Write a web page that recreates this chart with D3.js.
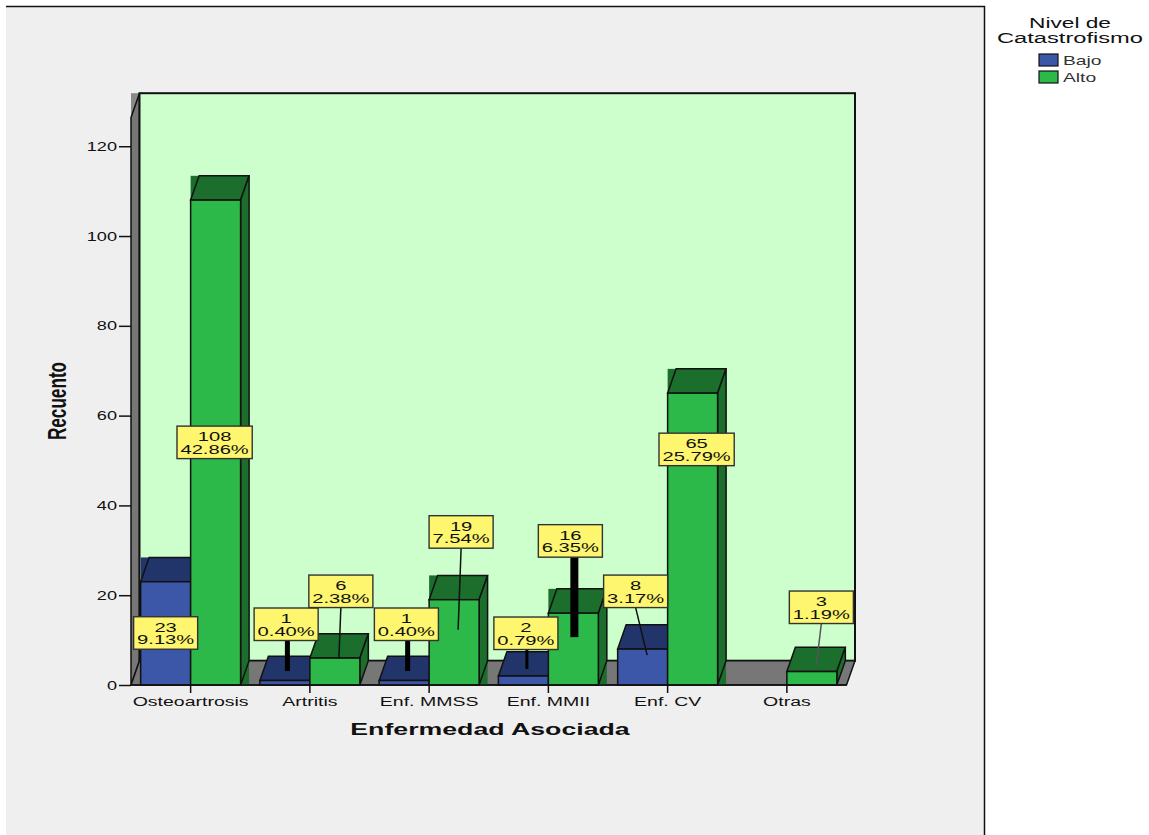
<!DOCTYPE html>
<html>
<head>
<meta charset="utf-8">
<script src="https://cdn.jsdelivr.net/npm/d3@7/dist/d3.min.js"></script>
<style>
  html, body { margin: 0; padding: 0; background: #fff; }
  svg { display: block; }
  text { font-family: "Liberation Sans", Arial, sans-serif; fill: #111; }
</style>
</head>
<body>
<svg id="chart" width="1149" height="835"></svg>
<script>
// Counts and overall percentages per associated disease and catastrophizing level
const categories = ["Osteoartrosis", "Artritis", "Enf. MMSS", "Enf. MMII", "Enf. CV", "Otras"];
const seriesNames = ["Bajo", "Alto"];
const bajoValues = [23, 1, 1, 2, 8, 0];
const altoValues = [108, 6, 19, 16, 65, 3];
const bajoPercents = ["9.13%", "0.40%", "0.40%", "0.79%", "3.17%", "0.00%"];
const altoPercents = ["42.86%", "2.38%", "7.54%", "6.35%", "25.79%", "1.19%"];
const yTicks = [0, 20, 40, 60, 80, 100, 120];

const colors = {
  Bajo: { front: "#3d57a8", dark: "#22356b" },
  Alto: { front: "#2db84a", dark: "#1b6e2c" }
};

// Callout placement relative to the top centre of each bar's front face:
// box centre offset, box top offset, optional leader (start x, end x, end y, width, colour)
const callouts = {
  Bajo: [
    { bx: 0, by: 35 },
    { bx: 1.25, by: -72.5, lead: [2.5, 2.5, -9.5, 5, "#000"] },
    { bx: 2.25, by: -72.5, lead: [3.5, 3.5, -9.5, 5, "#000"] },
    { bx: 2.5, by: -59, lead: [3.5, 3.5, -7, 3, "#000"] },
    { bx: -7, by: -74, lead: [-7, 4.5, 6, 1.5, "#111"] },
    null
  ],
  Alto: [
    { bx: -1, by: 226 },
    { bx: 6, by: -83, lead: [6, 4, 1, 1.5, "#111"] },
    { bx: 7, by: -84, lead: [7, 4, 30, 1.5, "#111"] },
    { bx: -3, by: -88.5, lead: [1, 1, 24, 8, "#000"] },
    { bx: 4, by: 40 },
    { bx: 9.5, by: -80.5, lead: [9.5, 4.5, -6.5, 1.5, "#555"] }
  ]
};

const svg = d3.select("#chart");
const floorY = 685, wallTopFrontY = 117.5, plotLeft = 131, plotRight = 846.5;
const depthX = 8.5, depthY = 24.3;
// Tall blocks render with a squared-off shaded backing; short ones do not
const squaredBackingFrom = 10;

const y = d3.scaleLinear().domain([0, 126.4]).range([floorY, wallTopFrontY]);
const x = d3.scaleBand().domain(categories).range([plotLeft, plotRight]).paddingInner(0.162).paddingOuter(0.081);
const xSub = d3.scaleBand().domain(seriesNames).range([0, x.bandwidth()]);

// Widens or narrows already placed text by a fixed factor
function stretch(sel, k) {
  sel.each(function () {
    const w = this.getComputedTextLength();
    d3.select(this).attr("textLength", w * k).attr("lengthAdjust", "spacingAndGlyphs");
  });
  return sel;
}

// Panel
svg.append("rect").attr("x", 6).attr("y", 7).attr("width", 978).attr("height", 828).attr("fill", "#efefef");
svg.append("path").attr("d", "M6,6.5H984.5V835").attr("fill", "none").attr("stroke", "#111").attr("stroke-width", 1.5);

// Back wall, side wall and floor of the 3D box
const plot = svg.append("g");
plot.append("rect")
  .attr("x", plotLeft).attr("y", wallTopFrontY - depthY).attr("width", depthX).attr("height", depthY)
  .attr("fill", "#8a8a8a");
plot.append("path")
  .attr("d", d3.line()([[plotLeft, wallTopFrontY], [plotLeft + depthX, wallTopFrontY - depthY], [plotLeft + depthX, floorY - depthY], [plotLeft, floorY]]) + "Z")
  .attr("fill", "#777").attr("stroke", "#111").attr("stroke-width", 1.5);
plot.append("rect")
  .attr("x", plotLeft + depthX).attr("y", wallTopFrontY - depthY)
  .attr("width", plotRight - plotLeft).attr("height", floorY - wallTopFrontY)
  .attr("fill", "#ccffcc").attr("stroke", "#111").attr("stroke-width", 2);
plot.append("path")
  .attr("d", d3.line()([[plotLeft, floorY], [plotLeft + depthX, floorY - depthY], [plotRight + depthX, floorY - depthY], [plotRight, floorY]]) + "Z")
  .attr("fill", "#777").attr("stroke", "#111").attr("stroke-width", 1.5);

// Y axis
const yAxis = svg.append("g").attr("transform", `translate(${plotLeft},0)`)
  .call(d3.axisLeft(y).tickValues(yTicks).tickSize(12).tickPadding(2));
yAxis.select(".domain").remove();
yAxis.selectAll("line").attr("stroke", "#111").attr("stroke-width", 1.5);
yAxis.selectAll("text").style("font-size", "12.5px").call(stretch, 1.45);

// Bars: blue first, then green, category by category
const rows = categories.map((c, i) => ({ c, i, values: { Bajo: bajoValues[i], Alto: altoValues[i] } }));
const barLayer = svg.append("g");
rows.forEach(r => {
  seriesNames.forEach(s => {
    const v = r.values[s];
    if (v === 0) return;
    const x0 = x(r.c) + xSub(s), x1 = x0 + xSub.bandwidth(), top = y(v);
    const g = barLayer.append("g");
    if (v >= squaredBackingFrom) {
      g.append("rect").attr("x", x0).attr("y", top - depthY)
        .attr("width", x1 - x0 + depthX).attr("height", depthY).attr("fill", colors[s].dark);
      g.append("rect").attr("x", x1).attr("y", top - depthY)
        .attr("width", depthX).attr("height", floorY - top + depthY).attr("fill", colors[s].dark);
    }
    g.append("path")
      .attr("d", d3.line()([[x0, top], [x0 + depthX, top - depthY], [x1 + depthX, top - depthY], [x1, top]]) + "Z")
      .attr("fill", colors[s].dark).attr("stroke", "#111").attr("stroke-width", 1.5);
    g.append("path")
      .attr("d", d3.line()([[x1, top], [x1 + depthX, top - depthY], [x1 + depthX, floorY - depthY], [x1, floorY]]) + "Z")
      .attr("fill", colors[s].dark).attr("stroke", "#111").attr("stroke-width", 1.5);
    g.append("rect").attr("x", x0).attr("y", top)
      .attr("width", x1 - x0).attr("height", floorY - top)
      .attr("fill", colors[s].front).attr("stroke", "#111").attr("stroke-width", 1.5);
  });
});

// X axis
const xAxis = svg.append("g").attr("transform", `translate(0,${floorY})`)
  .call(d3.axisBottom(x).tickSize(8).tickPadding(4));
xAxis.select(".domain").remove();
xAxis.append("line").attr("x1", plotLeft).attr("x2", plotRight).attr("stroke", "#111").attr("stroke-width", 1.5);
xAxis.selectAll(".tick line").attr("stroke", "#111").attr("stroke-width", 1.5);
xAxis.selectAll("text").style("font-size", "12.5px").call(stretch, 1.56);

// Axis titles
svg.append("text").attr("x", 490).attr("y", 735).attr("text-anchor", "middle")
  .style("font-size", "17px").style("font-weight", "bold").text("Enfermedad Asociada").call(stretch, 1.57);
svg.append("text").attr("transform", "translate(66,401) rotate(-90)").attr("text-anchor", "middle")
  .style("font-size", "26px").style("font-weight", "bold").text("Recuento").call(stretch, 0.66);

// Value callouts
const calloutLayer = svg.append("g");
const percents = { Bajo: bajoPercents, Alto: altoPercents };
const boxHeight = 32.5, labelStretch = 1.49;
rows.forEach(r => {
  seriesNames.forEach(s => {
    const spec = callouts[s][r.i];
    const v = r.values[s];
    if (!spec || v === 0) return;
    const cx = x(r.c) + xSub(s) + xSub.bandwidth() / 2, top = y(v);
    const bx = cx + spec.bx, by = top + spec.by;
    const g = calloutLayer.append("g");
    if (spec.lead) {
      const [sx, ex, ey, w, col] = spec.lead;
      g.append("line").attr("x1", cx + sx).attr("y1", by + boxHeight)
        .attr("x2", cx + ex).attr("y2", top + ey)
        .attr("stroke", col).attr("stroke-width", w);
    }
    const box = g.append("rect").attr("y", by).attr("height", boxHeight)
      .attr("fill", "#fdf66e").attr("stroke", "#333").attr("stroke-width", 1.4);
    g.append("text").attr("x", bx).attr("y", by + 15).attr("text-anchor", "middle")
      .style("font-size", "13.5px").text(v).call(stretch, labelStretch);
    const pct = g.append("text").attr("x", bx).attr("y", by + 27.7).attr("text-anchor", "middle")
      .style("font-size", "13.5px").text(percents[s][r.i]).call(stretch, labelStretch);
    // The computed length already reflects the stretched text
    const w = pct.node().getComputedTextLength() + 7;
    box.attr("x", bx - w / 2).attr("width", w);
  });
});

// Legend
const legend = svg.append("g");
legend.append("text").attr("x", 1070).attr("y", 28).attr("text-anchor", "middle")
  .style("font-size", "14px").text("Nivel de").call(stretch, 1.62);
legend.append("text").attr("x", 1070).attr("y", 43).attr("text-anchor", "middle")
  .style("font-size", "14px").text("Catastrofismo").call(stretch, 1.69);
seriesNames.forEach((s, i) => {
  const ly = 54 + i * 17;
  legend.append("rect").attr("x", 1039).attr("y", ly).attr("width", 19).attr("height", 12)
    .attr("fill", colors[s].front).attr("stroke", "#111").attr("stroke-width", 1.2);
  legend.append("text").attr("x", 1063).attr("y", ly + 11)
    .style("font-size", "13px").style("fill", "#333").text(s).call(stretch, 1.48);
});
</script>
</body>
</html>
